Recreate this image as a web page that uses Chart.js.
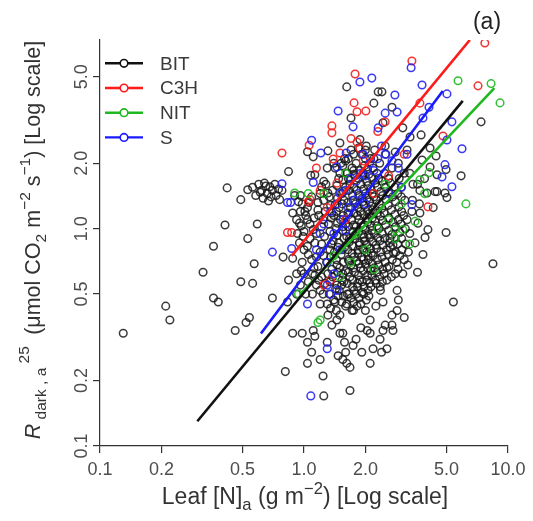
<!DOCTYPE html>
<html><head><meta charset="utf-8">
<script src="https://cdn.jsdelivr.net/npm/chart.js@4.4.0/dist/chart.umd.min.js"></script>
<style>html,body{margin:0;padding:0;background:#fff}#wrap{width:533px;height:521px;position:relative}</style>
</head><body><div id="wrap"><canvas id="c" width="533" height="521"></canvas></div>
<script>
const seriesNames = ['BIT','C3H','NIT','S'];
const seriesColors = ['#111111','#ff1a1a','#20b820','#1a1aff'];
const xTicks = [0.1,0.2,0.5,1,2,5,10];
const xTickLabels = ['0.1','0.2','0.5','1.0','2.0','5.0','10.0'];
const yTicks = [0.1,0.2,0.5,1,2,5];
const yTickLabels = ['0.1','0.2','0.5','1.0','2.0','5.0'];

const bitPoints = [
[0.13,0.33],[0.21,0.44],[0.22,0.38],[0.32,0.63],[0.36,0.48],[0.38,0.46],[0.36,0.83],[0.41,1.04],[0.42,1.54],[0.46,0.34],
[0.49,0.57],[0.49,1.36],[0.52,0.37],[0.54,0.39],[0.53,1.51],[0.53,0.9],[0.56,0.56],[0.57,0.69],[0.59,1.05],[0.7,0.48],
[0.79,0.74],[0.84,0.58],[0.81,0.22],[0.84,1.83],[0.83,0.46],
[0.56,1.55],[0.6,1.6],[0.62,1.5],[0.64,1.62],[0.66,1.45],[0.68,1.56],[0.7,1.5],[0.73,1.42],[0.75,1.52],[0.58,1.42],
[0.63,1.38],[0.69,1.4],[0.65,1.57],[0.72,1.6],[0.78,1.5],[0.61,1.47],[0.67,1.34],[0.76,1.36],
[0.9,1.42],[0.96,1.42],[0.88,1.18],[0.94,1.33],[1.04,1.25],[1.09,1.4],[1.17,1.32],[1.31,1.46],[1.42,1.29],[1.37,1.18],
[1.04,1.1],[1.11,0.99],[0.99,0.92],[1.04,0.83],[1.13,0.86],[1.2,0.78],[0.98,0.7],[1.09,0.72],[1.17,0.67],[0.88,0.73],
[1.13,1.77],[1.22,1.56],[0.92,1.1],[0.96,1.2],[0.97,1.03],[1.0,0.97],[0.93,0.95],[1.02,1.15],[0.95,0.86],[0.92,0.62],
[0.96,0.55],[1.0,0.62],[1.05,0.57],[1.1,0.5],[1.13,0.61],[1.02,0.5],[0.92,0.5],
[1.04,2.26],[1.11,2.14],[1.31,2.28],[1.5,2.48],[1.88,2.57],[1.62,4.49],[1.7,3.23],[2.31,4.26],[2.41,4.26],[2.2,3.78],
[2.7,3.62],[2.44,3.07],[3.75,2.7],[4.15,2.35],[4.44,2.16],[4.97,1.87],[3.31,2.64],[3.05,2.91],[3.79,2.07],[4.15,1.92],
[4.49,1.77],[7.38,3.1],[5.89,1.75],[4.49,1.48],[1.08,1.76],[1.25,1.65],[1.4,2.0],[1.6,2.05],[1.75,2.2],[2.0,2.3],
[2.2,2.1],[2.5,2.4],[2.8,2.25],[3.2,2.3],[1.3,1.9],[1.5,1.8],
[4.97,0.96],[8.44,0.69],[3.83,0.76],[3.5,0.86],[3.92,0.91],[4.05,0.99],[3.23,0.68],[3.02,0.8],[2.89,0.65],[4.39,1.48],
[4.91,1.46],[5.02,1.39],[4.01,1.46],[3.7,1.18],[3.62,1.06],[3.2,1.1],[2.73,0.84],[5.4,0.46],[3.4,1.35],[3.6,1.6],
[3.9,1.7],[3.3,1.8],[3.0,1.55],[4.3,1.25],[3.3,0.95],[3.1,0.72],[3.6,0.63],
[0.88,0.33],[0.98,0.33],[1.04,0.3],[1.11,0.34],[1.13,0.32],[1.09,0.27],[1.2,0.25],[1.3,0.3],[1.37,0.36],[1.45,0.38],
[1.5,0.33],[1.55,0.33],[1.47,0.26],[1.55,0.25],[1.62,0.24],[1.68,0.23],[1.04,0.24],[1.24,0.21],[1.74,0.29],[2.04,0.34],
[2.11,0.33],[2.18,0.28],[2.11,0.38],[2.36,0.31],[2.55,0.28],[2.44,0.34],[2.73,0.34],[2.11,0.24],[2.7,0.4],[2.86,0.42],
[2.44,0.46],[2.86,0.52],[2.36,0.54],[2.55,0.58],[1.68,0.18],[1.25,0.17],[1.31,0.4],[2.4,0.27],[3.1,0.39],[2.9,0.47],
[2.5,0.36],[2.7,0.36],[1.6,0.27],[1.9,0.35],[1.2,0.45],[1.35,0.43],[1.75,0.42],[2.0,0.42],[2.25,0.44],[1.58,0.3],
[1.8,0.31],[1.92,0.27],[1.42,0.46],[1.62,0.45],
[1.28,1.6],[1.33,1.4],[1.27,1.2],[1.32,1.05],[1.26,0.92],[1.34,0.8],[1.29,0.7],[1.31,0.62],[1.27,0.56],[1.33,0.5],[1.3,0.45],
[1.42,1.9],[1.38,1.5],[1.4,1.15],[1.44,1.0],[1.39,0.88],[1.41,0.78],[1.45,0.68],[1.38,0.6],[1.43,0.53],[1.4,0.47],[1.44,0.42],
[1.52,2.0],[1.48,1.7],[1.53,1.45],[1.49,1.25],[1.51,1.1],[1.55,0.98],[1.48,0.86],[1.52,0.76],[1.5,0.66],[1.54,0.58],[1.49,0.52],[1.53,0.46],[1.5,0.4],
[1.58,2.1],[1.63,1.8],[1.6,1.55],[1.57,1.35],[1.64,1.18],[1.6,1.05],[1.62,0.92],[1.58,0.82],[1.65,0.72],[1.6,0.64],[1.57,0.57],[1.63,0.5],[1.6,0.44],
[1.7,2.3],[1.72,1.9],[1.68,1.6],[1.73,1.42],[1.69,1.25],[1.71,1.1],[1.74,0.97],[1.67,0.87],[1.72,0.77],[1.7,0.68],[1.68,0.6],[1.73,0.54],[1.7,0.48],[1.72,0.42],
[1.8,2.0],[1.78,1.75],[1.82,1.5],[1.79,1.3],[1.83,1.15],[1.8,1.02],[1.78,0.9],[1.84,0.8],[1.81,0.71],[1.77,0.63],[1.83,0.56],[1.8,0.5],[1.82,0.44],
[1.92,2.2],[1.88,1.85],[1.9,1.6],[1.93,1.38],[1.89,1.2],[1.91,1.06],[1.94,0.94],[1.87,0.84],[1.92,0.74],[1.9,0.66],[1.88,0.58],[1.93,0.51],[1.9,0.45],
[2.02,2.4],[1.98,1.95],[2.03,1.65],[2.0,1.45],[1.97,1.28],[2.04,1.12],[2.0,0.99],[1.98,0.88],[2.03,0.78],[2.0,0.69],[2.05,0.61],[1.97,0.54],[2.02,0.47],
[2.12,2.1],[2.08,1.78],[2.13,1.52],[2.1,1.33],[2.08,1.17],[2.14,1.03],[2.1,0.91],[2.12,0.81],[2.07,0.72],[2.13,0.64],[2.1,0.56],[2.08,0.49],
[2.22,2.3],[2.18,1.9],[2.24,1.62],[2.2,1.4],[2.17,1.22],[2.23,1.08],[2.2,0.95],[2.25,0.84],[2.18,0.75],[2.21,0.66],[2.24,0.58],
[2.35,2.0],[2.32,1.7],[2.38,1.48],[2.34,1.3],[2.37,1.14],[2.33,1.0],[2.36,0.88],[2.38,0.78],[2.32,0.68],[2.35,0.6],[2.37,0.52],
[2.52,2.2],[2.48,1.8],[2.5,1.55],[2.53,1.36],[2.47,1.18],[2.51,1.04],[2.49,0.9],[2.54,0.8],[2.5,0.7],[2.47,0.62],
[2.7,1.9],[2.66,1.62],[2.72,1.4],[2.68,1.22],[2.73,1.07],[2.7,0.94],[2.65,0.82],[2.71,0.72],
[2.9,2.0],[2.93,1.7],[2.88,1.45],[2.92,1.26],[2.9,1.1],[2.95,0.96],[2.88,0.85],
[3.1,1.8],[3.12,1.35],[3.08,1.15],[3.14,1.0],[3.42,1.6],[3.38,1.2],[3.7,1.5],[3.68,1.3],
[1.2,1.45],[1.25,1.35],[1.18,1.15],[1.22,1.02],[1.15,0.95],[1.1,0.62],[1.15,0.55],[1.2,0.52],[1.22,0.6],
[1.55,1.95],[1.65,2.1],[1.85,2.35],[2.0,2.1],[1.75,1.85],[1.95,1.75],
[1.35,1.28],[1.36,1.12],[1.34,0.97],[1.36,0.85],[1.35,0.74],[1.37,0.65],[1.34,0.57],
[1.45,1.58],[1.46,1.38],[1.44,1.2],[1.46,1.06],[1.45,0.93],[1.47,0.82],[1.44,0.72],[1.46,0.63],[1.45,0.55],[1.47,0.49],
[1.55,1.68],[1.56,1.48],[1.54,1.3],[1.56,1.15],[1.55,1.02],[1.57,0.9],[1.54,0.8],[1.56,0.7],[1.55,0.62],[1.53,0.55],[1.56,0.49],
[1.65,1.7],[1.66,1.5],[1.64,1.32],[1.66,1.16],[1.65,1.02],[1.67,0.9],[1.64,0.8],[1.66,0.71],[1.65,0.63],[1.63,0.56],[1.66,0.5],
[1.75,1.78],[1.76,1.55],[1.74,1.35],[1.76,1.18],[1.75,1.04],[1.77,0.93],[1.74,0.83],[1.76,0.74],[1.75,0.66],[1.73,0.58],[1.76,0.52],[1.75,0.46],
[1.85,1.7],[1.86,1.42],[1.84,1.25],[1.86,1.1],[1.85,0.97],[1.87,0.86],[1.84,0.77],[1.86,0.69],[1.85,0.61],[1.83,0.54],[1.86,0.48],
[1.95,1.8],[1.96,1.52],[1.94,1.33],[1.96,1.16],[1.95,1.02],[1.97,0.91],[1.94,0.81],[1.96,0.72],[1.95,0.64],[1.93,0.57],[1.96,0.5],
[2.05,1.88],[2.06,1.58],[2.04,1.38],[2.06,1.22],[2.05,1.07],[2.07,0.94],[2.04,0.84],[2.06,0.75],[2.05,0.66],[2.03,0.58],[2.06,0.52],
[2.15,1.72],[2.16,1.45],[2.14,1.27],[2.16,1.12],[2.15,0.98],[2.17,0.87],[2.14,0.77],[2.16,0.69],[2.15,0.61],[2.13,0.54],
[2.28,1.8],[2.29,1.55],[2.27,1.35],[2.29,1.18],[2.28,1.03],[2.3,0.91],[2.27,0.81],[2.29,0.72],[2.28,0.63],[2.26,0.56],
[2.42,1.65],[2.43,1.42],[2.41,1.24],[2.43,1.09],[2.42,0.95],[2.44,0.84],[2.41,0.74],[2.43,0.65],[2.42,0.57],
[2.6,1.7],[2.61,1.47],[2.59,1.28],[2.61,1.12],[2.6,0.98],[2.62,0.86],[2.59,0.76],[2.61,0.67],
[2.8,1.55],[2.81,1.33],[2.79,1.16],[2.81,1.02],[2.8,0.9],[2.82,0.78],
[3.0,1.4],[3.01,1.2],[2.99,1.05],[3.01,0.9],
[0.98,1.3],[1.01,1.2],[1.06,1.32],[1.07,1.05],[0.95,1.06],[1.12,1.12],[1.0,0.8],[1.07,0.9],[1.15,0.74],[1.05,0.76],
[1.12,0.66],[1.18,0.58],[1.24,0.5],[1.22,0.85],[1.25,0.75],[1.17,1.22],[1.24,1.1],[0.97,0.64],
[2.64,0.9],[2.75,0.77],[2.85,0.7],[2.95,0.75],[3.05,0.62],[2.55,0.66],[2.68,0.6],[2.8,0.62],[3.15,0.85],[3.25,0.78]
];
const c3hPoints = [
[0.78,2.23],[0.83,0.96],[0.87,0.96],[1.05,1.33],[1.07,1.36],[1.06,2.42],[1.37,2.97],[1.37,2.76],[1.39,2.09],[1.5,2.23],
[1.78,5.15],[1.76,3.79],[1.82,3.45],[2.01,3.48],[1.82,2.5],[1.88,2.34],[3.38,5.91],[7.7,7.15],[7.13,4.54],[4.8,2.67],
[3.7,3.78],[4.05,1.26],[1.25,0.55],[1.35,0.58],[1.6,1.1],[1.2,1.5],[1.45,1.62],[1.95,2.05],[2.3,2.8],[2.2,1.45],
[2.6,1.75],[3.1,2.2],[1.3,1.25],[1.15,1.9],[1.7,2.6],[2.5,3.1]
];
const nitPoints = [
[0.9,1.46],[0.94,0.5],[1.2,0.38],[1.17,0.37],[5.69,4.79],[8.26,4.65],[9.14,3.79],[6.22,1.3],[3.7,1.68],[4.1,1.81],
[3.05,0.99],[2.79,0.99],[1.6,1.8],[1.5,0.6],[1.7,0.7],[2.0,0.8],[2.3,1.0],[2.6,1.1],[2.2,0.65],[1.8,0.95],
[3.0,1.3],[2.8,0.9],[1.4,0.75],[3.3,0.85],[3.9,1.45],[3.5,1.08],[2.5,1.6],[1.25,1.45],[1.05,1.45]
];
const sPoints = [
[0.7,0.78],[0.78,1.61],[0.83,1.32],[0.86,1.32],[0.87,0.81],[1.04,0.45],[1.08,0.17],[1.09,2.55],[1.11,1.63],[1.21,2.23],
[1.3,0.28],[1.47,3.48],[1.45,1.92],[1.61,2.23],[1.74,2.94],[1.88,4.73],[2.15,4.93],[3.35,5.5],[2.79,4.12],[3.79,4.58],
[5.02,4.17],[4.1,3.62],[2.5,3.4],[2.86,3.44],[2.31,2.91],[3.83,3.23],[5.02,2.56],[5.31,3.1],[5.95,2.33],[4.91,1.97],
[4.75,1.73],[5.31,1.56],[3.38,1.29],
[1.25,1.05],[1.35,1.2],[1.45,1.3],[1.5,1.45],[1.6,1.5],[1.7,1.7],[1.8,1.65],[1.9,1.8],[2.0,1.75],[2.1,2.0],
[2.2,1.85],[2.3,2.1],[1.4,0.95],[1.55,1.1],[1.65,1.25],[1.75,1.35],[1.85,1.45],[2.4,2.4],[2.5,2.2],[1.3,0.7],
[1.4,0.62],[1.5,0.8],[1.45,0.52],[1.15,0.8],[1.2,0.95],[2.7,2.05],[2.9,1.9],[3.2,2.2],[1.6,0.98],[2.0,1.3],
[1.95,2.2],[3.0,1.55],[2.6,1.45],[1.35,0.5],[1.3,0.55]
];
// fitted regression lines: [start],[end]
const bitFit = [[0.3,0.13],[6.0,3.87]];
const c3hFit = [[0.87,0.75],[6.5,7.38]];
const nitFit = [[0.955,0.497],[8.57,4.43]];
const sFit   = [[0.615,0.329],[4.79,4.30]];

const FAM = '"Liberation Sans", Arial, Helvetica, sans-serif';
const toXY = a => a.map(p => ({x:p[0], y:p[1]}));
const pointSets = [bitPoints, c3hPoints, nitPoints, sPoints];
const fitSets = [bitFit, c3hFit, nitFit, sFit];
const pointCols = ['rgba(25,25,25,0.85)','rgba(240,30,30,0.9)','rgba(30,185,30,0.9)','rgba(35,35,240,0.9)'];

const datasets = [];
pointSets.forEach((pts,i)=>{
  datasets.push({type:'scatter', label:seriesNames[i], data:toXY(pts), showLine:false,
    pointStyle:'circle', pointRadius:3.8, pointBorderWidth:1.5, pointBackgroundColor:'rgba(0,0,0,0)',
    pointBorderColor:pointCols[i], borderColor:pointCols[i], order:10-i});
});
fitSets.forEach((f,i)=>{
  datasets.push({type:'line', label:seriesNames[i]+' fit', data:toXY(f), showLine:true, fill:false,
    pointRadius:0, borderColor:seriesColors[i], borderWidth:2.6, order:0});
});

function drawRich(ctx, segs, base, cx, cy, rotate){
  let total = 0;
  const fontOf = s => (s.it ? 'italic ' : '') + (base*(s.sz||1)).toFixed(1) + 'px ' + FAM;
  segs.forEach(s=>{ ctx.font = fontOf(s); s.w = ctx.measureText(s.t).width + (s.gap||0)*base; total += s.w; });
  ctx.save(); ctx.translate(cx, cy); if (rotate) ctx.rotate(-Math.PI/2);
  ctx.textAlign = 'left'; ctx.textBaseline = 'alphabetic';
  let x = -total/2;
  segs.forEach(s=>{ ctx.font = fontOf(s); ctx.fillText(s.t, x + (s.pre||0)*base, (s.dy||0)*base); x += s.w; });
  ctx.restore();
}

const textPlugin = {
  id:'textPlugin',
  afterDraw(chart){
    const ctx = chart.ctx, ys = chart.scales.y;
    ctx.save();
    ctx.font = '18px ' + FAM; ctx.fillStyle = '#4d4d4d';
    ctx.textAlign = 'center'; ctx.textBaseline = 'middle';
    yTicks.forEach((v,i)=>{
      const py = ys.getPixelForValue(v);
      ctx.save(); ctx.translate(82, py); ctx.rotate(-Math.PI/2); ctx.fillText(yTickLabels[i], 0, 0); ctx.restore();
    });
    seriesNames.forEach((n,i)=>{
      const ly = 63.3 + i*24.7;
      ctx.strokeStyle = seriesColors[i]; ctx.lineWidth = 2.4;
      ctx.beginPath(); ctx.moveTo(105, ly); ctx.lineTo(143, ly); ctx.stroke();
      ctx.lineWidth = 1.6; ctx.fillStyle = '#fff';
      ctx.beginPath(); ctx.arc(124, ly, 3.8, 0, Math.PI*2); ctx.fill(); ctx.stroke();
      ctx.fillStyle = '#3a3a3a'; ctx.font = '19px ' + FAM; ctx.textAlign = 'left'; ctx.textBaseline = 'middle';
      ctx.fillText(n, 160, ly + 1);
    });
    ctx.fillStyle = '#222'; ctx.font = '23px ' + FAM; ctx.textAlign = 'center'; ctx.textBaseline = 'middle';
    ctx.fillText('(a)', 487, 23);
    ctx.fillStyle = '#333';
    drawRich(ctx, [
      {t:'Leaf [N]'},{t:'a', sz:0.72, dy:0.28},{t:' (g m'},{t:'\u22122', sz:0.72, dy:-0.45},{t:') [Log scale]'}
    ], 23, 305, 504, false);
    drawRich(ctx, [
      {t:'R', it:true},{t:' dark , a', sz:0.72, dy:0.3},{t:' 25', sz:0.72, dy:-0.5, gap:0.25},
      {t:' (\u03bcmol CO'},{t:'2', sz:0.72, dy:0.3},{t:' m'},{t:'\u22122', sz:0.72, dy:-0.45},{t:' s'},{t:'\u22121', sz:0.72, dy:-0.45},{t:') [Log scale]'}
    ], 21.5, 40, 240, true);
    ctx.restore();
  }
};

new Chart(document.getElementById('c'), {
  type:'scatter',
  data:{datasets},
  options:{
    responsive:false, animation:false, devicePixelRatio:1,
    layout:{padding:{left:0, right:25, top:40, bottom:0}},
    plugins:{legend:{display:false}, tooltip:{enabled:false}},
    scales:{
      x:{type:'logarithmic', min:0.1, max:10, position:'bottom',
        afterBuildTicks: s => { s.ticks = xTicks.map(v=>({value:v})); },
        afterFit: s => { s.height = 75; },
        ticks:{callback:(v,i)=>xTickLabels[i], autoSkip:false, maxRotation:0, minRotation:0,
          font:{size:18, family:FAM}, color:'#4d4d4d', padding:6},
        grid:{drawOnChartArea:false, drawTicks:true, tickLength:7, color:'#333', lineWidth:1.2},
        border:{display:true, color:'#333', width:1.2}},
      y:{type:'logarithmic', min:0.1, max:7.38, position:'left',
        afterBuildTicks: s => { s.ticks = yTicks.map(v=>({value:v})); },
        afterFit: s => { s.width = 100; },
        ticks:{display:false},
        grid:{drawOnChartArea:false, drawTicks:true, tickLength:7, color:'#333', lineWidth:1.2},
        border:{display:true, color:'#333', width:1.2}}
    }
  },
  plugins:[textPlugin]
});
</script></body></html>
